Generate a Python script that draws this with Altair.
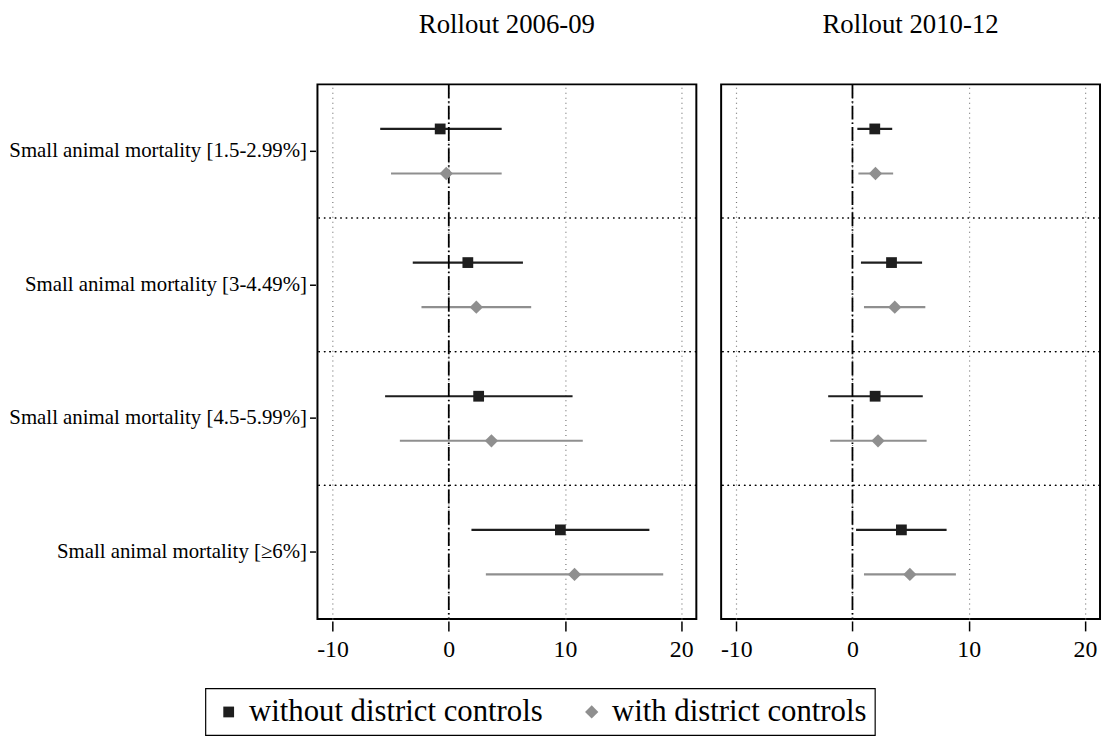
import altair as alt
import pandas as pd

categories = [
    "Small animal mortality [1.5-2.99%]",
    "Small animal mortality [3-4.49%]",
    "Small animal mortality [4.5-5.99%]",
    "Small animal mortality [≥6%]",
]
panels = ["Rollout 2006-09", "Rollout 2010-12"]
series = ["without district controls", "with district controls"]

# Rollout 2006-09
p1_without_est = [-0.74, 1.64, 2.57, 9.60]
p1_without_lo = [-5.90, -3.10, -5.48, 1.95]
p1_without_hi = [4.55, 6.38, 10.65, 17.26]
p1_with_est = [-0.22, 2.37, 3.67, 10.82]
p1_with_lo = [-4.97, -2.35, -4.21, 3.19]
p1_with_hi = [4.55, 7.09, 11.53, 18.45]
# Rollout 2010-12
p2_without_est = [1.92, 3.36, 1.95, 4.21]
p2_without_lo = [0.42, 0.73, -2.09, 0.31]
p2_without_hi = [3.42, 5.99, 6.05, 8.10]
p2_with_est = [1.98, 3.64, 2.20, 4.94]
p2_with_lo = [0.51, 0.99, -1.92, 0.99]
p2_with_hi = [3.50, 6.27, 6.38, 8.90]

x_ticks = [-10, 0, 10, 20]

blocks = [
    (panels[0], series[0], p1_without_est, p1_without_lo, p1_without_hi),
    (panels[0], series[1], p1_with_est, p1_with_lo, p1_with_hi),
    (panels[1], series[0], p2_without_est, p2_without_lo, p2_without_hi),
    (panels[1], series[1], p2_with_est, p2_with_lo, p2_with_hi),
]
rows = []
for panel, s, est, lo, hi in blocks:
    for c, e, l, h in zip(categories, est, lo, hi):
        rows.append({"panel": panel, "series": s, "cat": c, "est": e, "lo": l, "hi": h})
df = pd.DataFrame(rows)

FONT = "Liberation Serif"
BLACK = "#1e1e1e"
GRAY = "#8f8f8f"

xscale = alt.Scale(domain=[-11.3, 21.3], nice=False, zero=False)
yscale = alt.Scale(paddingInner=0, paddingOuter=0)
color = alt.Color("series:N", scale=alt.Scale(domain=series, range=[BLACK, GRAY]),
                  legend=alt.Legend(title=None))
shape = alt.Shape("series:N", scale=alt.Scale(domain=series, range=["square", "diamond"]),
                  legend=alt.Legend(title=None))
size = alt.Size("series:N", scale=alt.Scale(domain=series, range=[118, 180]), legend=None)
yoff = alt.YOffset("series:N", scale=alt.Scale(domain=series, paddingInner=0, paddingOuter=0.5))

xaxis = alt.Axis(values=x_ticks, grid=True, gridDash=[1, 4], gridColor="#777777", gridWidth=1.2,
                 labelFontSize=24, labelFont=FONT, labelColor="black", tickColor="black",
                 tickSize=10, tickWidth=1.5, labelPadding=7, domain=False, title=None,
                 labelExpr="toString(datum.value)")
yaxis = alt.Axis(labelFontSize=21, labelFont=FONT, labelColor="black", tickColor="black",
                 tickSize=6, tickWidth=1.5, labelPadding=3, domain=False, grid=False, title=None,
                 labelLimit=0)

base = alt.Chart()

ci = base.mark_rule(strokeWidth=2.2).encode(
    x=alt.X("lo:Q", scale=xscale, axis=xaxis),
    x2="hi:Q",
    y=alt.Y("cat:N", sort=categories, scale=yscale, axis=yaxis),
    yOffset=yoff,
    color=color,
)

seps = base.mark_rule(color="black", strokeDash=[1.5, 4], strokeWidth=1.2).encode(
    y=alt.Y("cat:N", sort=categories, scale=yscale, axis=yaxis, bandPosition=0),
).transform_filter(alt.FieldOneOfPredicate(field="cat", oneOf=categories[1:]))

zero = base.mark_rule(color="black", strokeDash=[14, 3, 1.5, 3], strokeWidth=1.8).encode(
    x=alt.datum(0, scale=xscale, axis=xaxis),
).transform_filter(
    (alt.datum.cat == categories[0]) & (alt.datum.series == series[0])
)

pts = base.mark_point(filled=True, opacity=1).encode(
    x=alt.X("est:Q", scale=xscale, axis=xaxis),
    y=alt.Y("cat:N", sort=categories, scale=yscale, axis=yaxis),
    yOffset=yoff,
    color=color,
    shape=shape,
    size=size,
)

layered = alt.layer(ci, seps, zero, pts, data=df).properties(width=382, height=539)

chart = layered.facet(
    column=alt.Column("panel:N", sort=panels, title=None,
                      header=alt.Header(labelFontSize=27, labelFont=FONT, labelColor="black",
                                        labelPadding=44, labelLimit=0)),
    spacing=21,
).properties(
    padding={"left": 0, "top": 0, "right": 0, "bottom": 0}
).configure_axis(
    labelFont=FONT
).configure_view(
    stroke="black", strokeWidth=2
).configure_legend(
    orient="none", legendX=-113, legendY=609, direction="horizontal",
    strokeColor="black", strokeWidth=1.2, padding=8,
    labelFontSize=31, labelFont=FONT, labelColor="black", labelLimit=0,
    symbolSize=175, symbolStrokeWidth=0, columnPadding=33, labelOffset=5,
)

chart.save("out.html", embed_options={"renderer": "svg", "actions": False})
